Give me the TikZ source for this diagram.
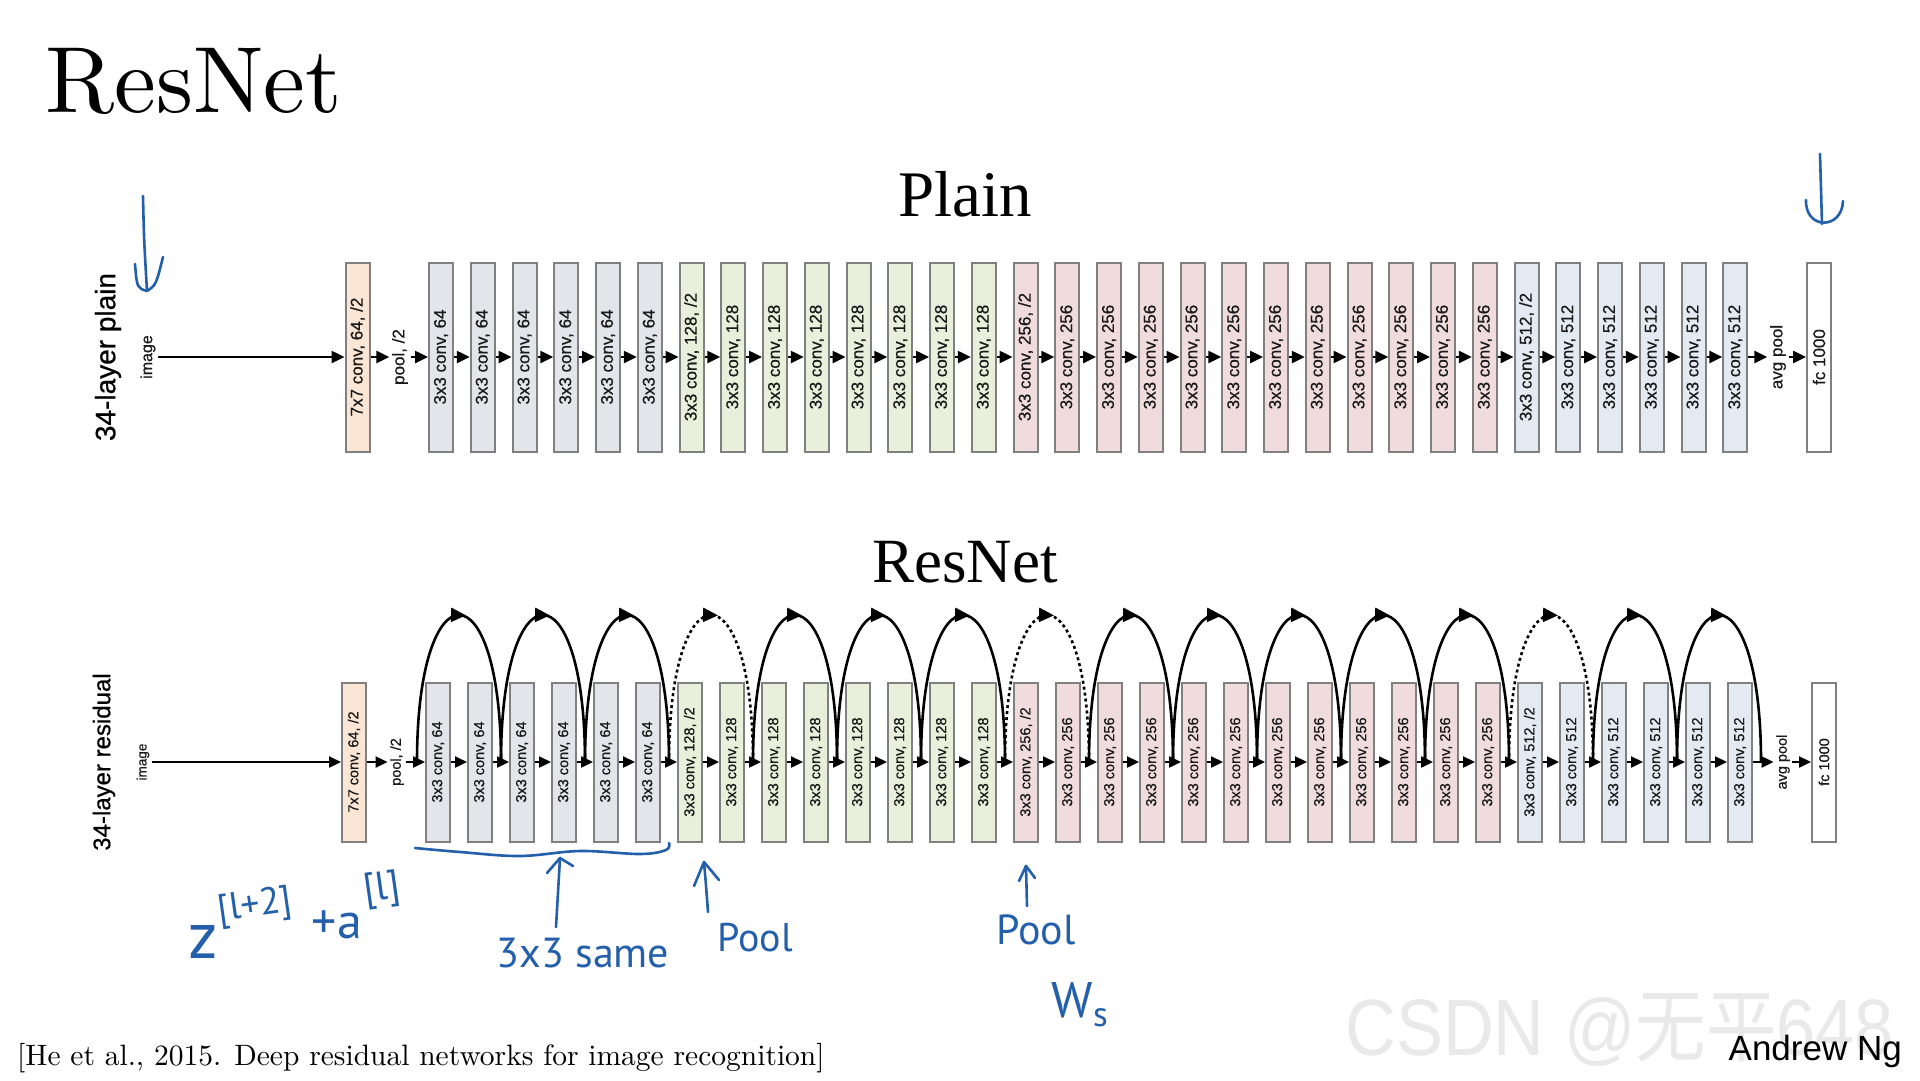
\documentclass[tikz,border=0pt]{standalone}
\usepackage{fontspec}
\usepackage{graphicx}
\usetikzlibrary{arrows.meta,calc}
\newfontfamily\sansf{Liberation Sans}
\newfontfamily\sansb{Liberation Sans}[FakeBold=0.6]
\newfontfamily\seriff{Liberation Serif}
\newfontfamily\handf{PT Sans}
\newfontfamily\cjkf{Noto Sans CJK SC}
\newfontfamily\lmten{lmroman10-regular.otf}
\definecolor{c77}{RGB}{251,229,212}
\definecolor{c64}{RGB}{228,228,235}
\definecolor{c128}{RGB}{234,239,219}
\definecolor{c256}{RGB}{240,220,221}
\definecolor{c512}{RGB}{227,234,241}
\definecolor{bgray}{RGB}{128,128,128}
\definecolor{hblue}{RGB}{35,95,170}
\definecolor{wmark}{RGB}{233,233,233}
\definecolor{ltext}{RGB}{25,25,25}
\tikzset{
  pbox/.style={draw=bgray, line width=2pt, minimum width=24pt, minimum height=189pt, inner sep=0pt, text=ltext, font=\sansb\fontsize{17}{20}\selectfont},
  rbox/.style={draw=bgray, line width=2pt, minimum width=24pt, minimum height=159pt, inner sep=0pt, text=ltext, font=\sansb\fontsize{14.5}{17}\selectfont},
  plbl/.style={rotate=90, inner sep=2.5pt, text=ltext, font=\sansb\fontsize{17}{20}\selectfont},
  rlbl/.style={rotate=90, inner sep=2.5pt, text=ltext, font=\sansb\fontsize{14.5}{17}\selectfont},
  parr/.style={line width=2.5pt, -{Triangle[length=13pt,width=12pt]}},
  rarr/.style={line width=2.3pt, -{Triangle[length=12pt,width=11pt]}},
  scurve/.style={line width=2.6pt},
  scurvedot/.style={line width=2.6pt, dash pattern=on 3pt off 3pt},
  stip/.style={line width=2.5pt, -{Triangle[length=15pt,width=14pt]}},
  handl/.style={draw=hblue, line width=2.6pt, line cap=round, line join=round},
  htext/.style={text=hblue, inner sep=0pt, font=\handf\fontsize{40}{44}\selectfont},
}
\begin{document}
\begin{tikzpicture}[x=1pt,y=-1pt]
\fill[white] (0,0) rectangle (1920,1080);
\useasboundingbox (0,0) rectangle (1920,1080);

% watermark
\node[anchor=base west, inner sep=0pt, text=wmark, font=\sansf\fontsize{80}{90}\selectfont] (wm) at (1345,1055) {\scalebox{0.88}[1]{CSDN @{\cjkf 无平}648}};

% titles
\node[anchor=base west, inner sep=0pt, font=\lmten\fontsize{94}{110}\selectfont] (title) at (45,112) {ResNet};
\node[anchor=base, inner sep=0pt, font=\seriff\fontsize{65}{72}\selectfont] (hplain) at (965,216) {Plain};
\node[anchor=base, inner sep=0pt, font=\seriff\fontsize{63}{70}\selectfont] (hres) at (965,582) {ResNet};

% ---------------- plain row ----------------
\node[rotate=90, inner sep=0pt, font=\sansb\fontsize{28}{32}\selectfont] (lplain) at (108,357) {34-layer plain};
\node[plbl, font=\sansb\fontsize{16}{18}\selectfont] (pimg) at (148,357) {image};
\node[pbox, fill=c77] (p0) at (357.5,357) {\rotatebox{90}{7x7 conv, 64, /2}};
\node[plbl] (ppool) at (400,357) {pool, /2};
\foreach \st/\n/\ch/\col in {1/6/64/c64,7/8/128/c128,15/12/256/c256,27/6/512/c512}{
  \foreach \k in {1,...,\n}{
    \pgfmathtruncatemacro{\idx}{\st+\k-1}
    \pgfmathsetmacro{\xx}{441+(\idx-1)*41.75}
    \ifnum\k=1 \ifnum\ch>64 \def\lab{3x3 conv, \ch, /2}\else\def\lab{3x3 conv, \ch}\fi\else\def\lab{3x3 conv, \ch}\fi
    \node[pbox, fill=\col] (p\idx) at (\xx,357) {\rotatebox{90}{\lab}};
  }
}
\node[plbl] (pavg) at (1778,357) {avg pool};
\node[pbox, fill=white] (pfc) at (1819,357) {\rotatebox{90}{fc 1000}};

\draw[parr] (pimg.south) -- (p0.west);
\draw[parr] (p0.east) -- (ppool.north);
\draw[parr] (ppool.south) -- (p1.west);
\foreach \i [evaluate=\i as \j using int(\i+1)] in {1,...,31}{
  \draw[parr] (p\i.east) -- (p\j.west);
}
\draw[parr] (p32.east) -- (pavg.north);
\draw[parr] (pavg.south) -- (pfc.west);

% ---------------- residual row ----------------
\node[rotate=90, inner sep=0pt, font=\sansb\fontsize{24}{28}\selectfont] (lres) at (104,762) {34-layer residual};
\node[rlbl, font=\sansb\fontsize{13.5}{16}\selectfont] (rimg) at (143,762) {image};
\node[rbox, fill=c77] (r0) at (354,762) {\rotatebox{90}{7x7 conv, 64, /2}};
\node[rlbl] (rpool) at (397,762) {pool, /2};
\foreach \st/\n/\ch/\col in {1/6/64/c64,7/8/128/c128,15/12/256/c256,27/6/512/c512}{
  \foreach \k in {1,...,\n}{
    \pgfmathtruncatemacro{\idx}{\st+\k-1}
    \pgfmathsetmacro{\xx}{438+(\idx-1)*42}
    \ifnum\k=1 \ifnum\ch>64 \def\lab{3x3 conv, \ch, /2}\else\def\lab{3x3 conv, \ch}\fi\else\def\lab{3x3 conv, \ch}\fi
    \node[rbox, fill=\col] (r\idx) at (\xx,762) {\rotatebox{90}{\lab}};
  }
}
\node[rlbl] (ravg) at (1783,762) {avg pool};
\node[rbox, fill=white] (rfc) at (1824,762) {\rotatebox{90}{fc 1000}};

\draw[rarr] (rimg.south) -- (r0.west);
\draw[rarr] (r0.east) -- (rpool.north);
\draw[rarr] (rpool.south) -- (r1.west);
\foreach \i [evaluate=\i as \j using int(\i+1)] in {1,...,31}{
  \draw[rarr] (r\i.east) -- (r\j.west);
}
\draw[rarr] (r32.east) -- (ravg.north);
\draw[rarr] (ravg.south) -- (rfc.west);

% shortcut connections
\foreach \k/\sty in {1/scurve,2/scurve,3/scurve,4/scurvedot,5/scurve,6/scurve,7/scurve,8/scurvedot,9/scurve,10/scurve,11/scurve,12/scurve,13/scurve,14/scurvedot,15/scurve,16/scurve}{
  \pgfmathsetmacro{\sx}{426+(2*\k-2)*42-9}
  \pgfmathsetmacro{\ex}{426+2*\k*42-9}
  \pgfmathsetmacro{\mx}{(\sx+\ex)/2}
  \coordinate (sa\k) at (\sx,762);
  \coordinate (sb\k) at (\ex,762);
  \coordinate (ta\k) at (\mx-4,615);
  \coordinate (tb\k) at (\mx+7,615.4);
  \draw[\sty] (sa\k) .. controls +(0,-196) and +(0,-196) .. (sb\k);
  \draw[stip] (ta\k) -- (tb\k);
}

% ---------------- footer ----------------
\node[anchor=base west, inner sep=0pt, font=\lmten\fontsize{29.5}{34}\selectfont] (cite) at (17,1065) {[He et al., 2015. Deep residual networks for image recognition]};
\node[anchor=base east, inner sep=0pt, font=\sansf\fontsize{35}{40}\selectfont] (ang) at (1902,1060) {Andrew Ng};

% ---------------- handwritten annotations ----------------
\coordinate (ha1) at (143,196); \coordinate (hb1) at (147,291);
\draw[handl] (ha1) .. controls (144,240) .. (hb1);
\draw[handl] (135,264) .. controls (137,288) .. (147,291) .. controls (156,285) .. (163,257);
\coordinate (ha2) at (1820,154); \coordinate (hb2) at (1822,224);
\draw[handl] (ha2) -- (hb2);
\draw[handl] (1806,200) .. controls (1805,230) and (1842,230) .. (1843,201);

\draw[handl] plot[smooth, tension=0.6] coordinates {(415,848) (460,852) (520,856) (580,851) (640,854) (666,850) (669,843)};

\node[htext, font=\handf\fontsize{66}{70}\selectfont] (tz) at (203,942) {z};
\node[htext, font=\handf\fontsize{38}{42}\selectfont, rotate=8] (tz2) at (255,907) {[l+2]};
\node[htext, font=\handf\fontsize{50}{54}\selectfont] (ta) at (337,925) {+a};
\node[htext, font=\handf\fontsize{40}{44}\selectfont, rotate=8] (ta2) at (382,890) {[l]};

\node[htext, font=\handf\fontsize{42}{46}\selectfont] (tsame) at (583,953) {3x3 same};
\coordinate (dn1) at (556,927);
\coordinate (up1) at (560,858);
\draw[handl] (dn1) -- (up1);
\draw[handl] (547,873) -- (up1) -- (573,866);

\node[htext] (tpool1) at (755,938) {Pool};
\coordinate (dn2) at (708,912);
\coordinate (up2) at (704,862);
\draw[handl] (dn2) .. controls (706,885) .. (up2);
\draw[handl] (694,886) -- (up2) -- (719,880);

\node[htext, font=\handf\fontsize{42}{46}\selectfont] (tpool2) at (1036,930) {Pool};
\coordinate (dn3) at (1027,906);
\coordinate (up3) at (1026,866);
\draw[handl] (dn3) -- (up3);
\draw[handl] (1019,881) -- (up3) -- (1035,878);

\node[htext, font=\handf\fontsize{50}{54}\selectfont] (tws) at (1080,1005) {W\textsubscript{s}};
\end{tikzpicture}
\end{document}
